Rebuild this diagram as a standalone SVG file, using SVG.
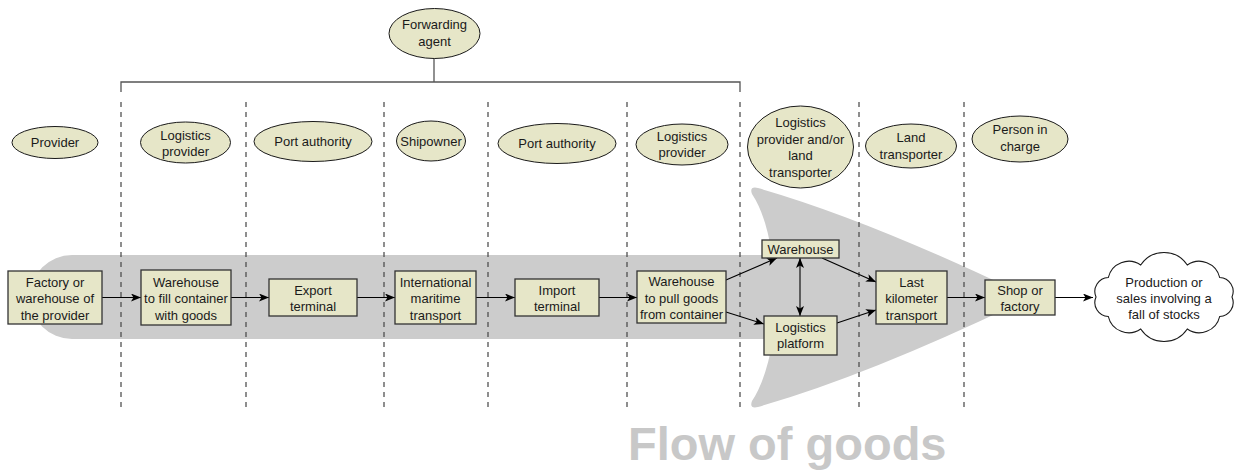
<svg xmlns="http://www.w3.org/2000/svg" width="1238" height="472" viewBox="0 0 1238 472">
<defs>
<style>
text{font-family:"Liberation Sans",Arial,sans-serif;font-size:13px;fill:#1a1a1a;text-anchor:middle}
.el{fill:#e6e6c8;stroke:#1a1a1a;stroke-width:1}
.bx{fill:#e6e6c8;stroke:#333;stroke-width:1.3}
.dash{stroke:#444;stroke-width:1.2;stroke-dasharray:5 5;fill:none}
.con{stroke:#000;stroke-width:1.1;fill:none;marker-end:url(#ah)}
.flowtxt{font-size:47px;font-weight:bold;fill:#c8c8c8;text-anchor:start}
</style>
<marker id="ah" viewBox="0 0 10 8" refX="10" refY="4" markerWidth="10" markerHeight="8" markerUnits="userSpaceOnUse" orient="auto-start-reverse">
<path d="M0,0 L10,4 L0,8 L2.5,4 Z" fill="#000"/>
</marker>
</defs>
<rect width="1238" height="472" fill="#fff"/>
<g id="flow">
<path d="M72,255 L772,255 Q766,215 752,194 Q749,186 758,188 Q870,220 1030,297.5 Q870,375 758,407 Q749,409 752,401 Q766,380 773,339 L72,339 A42,42 0 0 1 72,255 Z" fill="#cccccc"/>
<text class="flowtxt" x="628" y="460">Flow of goods</text>
</g>
<g id="lanes">
<path d="M121,92 V82 H740 V92" stroke="#555" stroke-width="1.3" fill="none"/>
<line class="dash" x1="121" y1="102" x2="121" y2="408"/>
<line class="dash" x1="246" y1="102" x2="246" y2="408"/>
<line class="dash" x1="384" y1="102" x2="384" y2="408"/>
<line class="dash" x1="488" y1="102" x2="488" y2="408"/>
<line class="dash" x1="627" y1="102" x2="627" y2="408"/>
<line class="dash" x1="740" y1="102" x2="740" y2="408"/>
<line class="dash" x1="859" y1="102" x2="859" y2="408"/>
<line class="dash" x1="964" y1="102" x2="964" y2="408"/>
<line x1="434" y1="58" x2="434" y2="82" stroke="#555" stroke-width="1.3"/>
</g>
<g id="actor-forwarding"><ellipse class="el" cx="434.5" cy="33.5" rx="45.5" ry="25"/><text x="434.5" y="29">Forwarding</text><text x="434.5" y="45.5">agent</text></g>
<g id="actor-provider"><ellipse class="el" cx="55" cy="142.5" rx="43" ry="16"/><text x="55" y="147">Provider</text></g>
<g id="actor-logprov1"><ellipse class="el" cx="185.5" cy="142.5" rx="45" ry="20.5"/><text x="185.5" y="139.5">Logistics</text><text x="185.5" y="156">provider</text></g>
<g id="actor-port1"><ellipse class="el" cx="313" cy="141.5" rx="59" ry="20"/><text x="313" y="146">Port authority</text></g>
<g id="actor-shipowner"><ellipse class="el" cx="431" cy="141" rx="34.5" ry="20"/><text x="431" y="145.5">Shipowner</text></g>
<g id="actor-port2"><ellipse class="el" cx="557" cy="143.5" rx="59" ry="20"/><text x="557" y="148">Port authority</text></g>
<g id="actor-logprov2"><ellipse class="el" cx="682" cy="144.5" rx="46" ry="20.5"/><text x="682" y="140.5">Logistics</text><text x="682" y="157">provider</text></g>
<g id="actor-logland"><ellipse class="el" cx="800.5" cy="147" rx="53" ry="41"/><text x="800.5" y="127">Logistics</text><text x="800.5" y="143.5">provider and/or</text><text x="800.5" y="160">land</text><text x="800.5" y="176.5">transporter</text></g>
<g id="actor-land"><ellipse class="el" cx="911" cy="146" rx="45.5" ry="22"/><text x="911" y="142">Land</text><text x="911" y="158.5">transporter</text></g>
<g id="actor-person"><ellipse class="el" cx="1020" cy="139" rx="48" ry="23"/><text x="1020" y="134">Person in</text><text x="1020" y="150.5">charge</text></g>
<g id="connectors">
<line class="con" x1="102" y1="297.5" x2="141" y2="297.5"/>
<line class="con" x1="231" y1="297.5" x2="269" y2="297.5"/>
<line class="con" x1="357" y1="297.5" x2="395" y2="297.5"/>
<line class="con" x1="476" y1="297.5" x2="515" y2="297.5"/>
<line class="con" x1="599" y1="297.5" x2="637" y2="297.5"/>
<line class="con" x1="726" y1="280" x2="777" y2="258"/>
<line class="con" x1="726" y1="312" x2="764" y2="324"/>
<line class="con" x1="800" y1="258" x2="800" y2="316" style="marker-start:url(#ah)"/>
<line class="con" x1="822" y1="258" x2="876" y2="282"/>
<line class="con" x1="837" y1="323" x2="876" y2="310"/>
<line class="con" x1="947" y1="297.5" x2="985" y2="297.5"/>
<line class="con" x1="1055" y1="297.5" x2="1093" y2="297.5"/>
</g>
<g id="n-factory"><rect class="bx" x="8" y="271" width="94" height="53"/><text x="55" y="286.5">Factory or</text><text x="55" y="303">warehouse of</text><text x="55" y="319.5">the provider</text></g>
<g id="n-fill"><rect class="bx" x="141" y="270" width="90" height="55"/><text x="186" y="286.5">Warehouse</text><text x="186" y="303">to fill container</text><text x="186" y="319.5">with goods</text></g>
<g id="n-export"><rect class="bx" x="269" y="279" width="88" height="37"/><text x="313" y="294.5">Export</text><text x="313" y="311">terminal</text></g>
<g id="n-maritime"><rect class="bx" x="395" y="271" width="81" height="53"/><text x="435.5" y="286.5">International</text><text x="435.5" y="303">maritime</text><text x="435.5" y="319.5">transport</text></g>
<g id="n-import"><rect class="bx" x="515" y="279" width="84" height="37"/><text x="557" y="294.5">Import</text><text x="557" y="311">terminal</text></g>
<g id="n-pull"><rect class="bx" x="637" y="271" width="89" height="52"/><text x="681.5" y="286">Warehouse</text><text x="681.5" y="302.5">to pull goods</text><text x="681.5" y="319">from container</text></g>
<g id="n-warehouse"><rect class="bx" x="762" y="240" width="77" height="18"/><text x="800.5" y="253.5">Warehouse</text></g>
<g id="n-platform"><rect class="bx" x="764" y="316" width="73" height="39"/><text x="800.5" y="331.5">Logistics</text><text x="800.5" y="348">platform</text></g>
<g id="n-lastkm"><rect class="bx" x="876" y="271" width="71" height="53"/><text x="911.5" y="286.5">Last</text><text x="911.5" y="303">kilometer</text><text x="911.5" y="319.5">transport</text></g>
<g id="n-shop"><rect class="bx" x="985" y="280" width="70" height="35"/><text x="1020" y="294.5">Shop or</text><text x="1020" y="311">factory</text></g>
<g id="n-cloud">
<path d="M1232,297 A14,14 0 0 1 1219.7,316.5 A21,21 0 0 1 1187.3,329 A28,28 0 0 1 1140.7,329 A21,21 0 0 1 1108.3,316.5 A14,14 0 0 1 1096,297 A14,14 0 0 1 1108.3,277.5 A21,21 0 0 1 1140.7,265 A28,28 0 0 1 1187.3,265 A21,21 0 0 1 1219.7,277.5 A14,14 0 0 1 1232,297 Z" fill="#fff" stroke="#1a1a1a" stroke-width="1.1"/>
<text x="1164" y="287">Production or</text><text x="1164" y="303">sales involving a</text><text x="1164" y="319">fall of stocks</text>
</g>
</svg>
